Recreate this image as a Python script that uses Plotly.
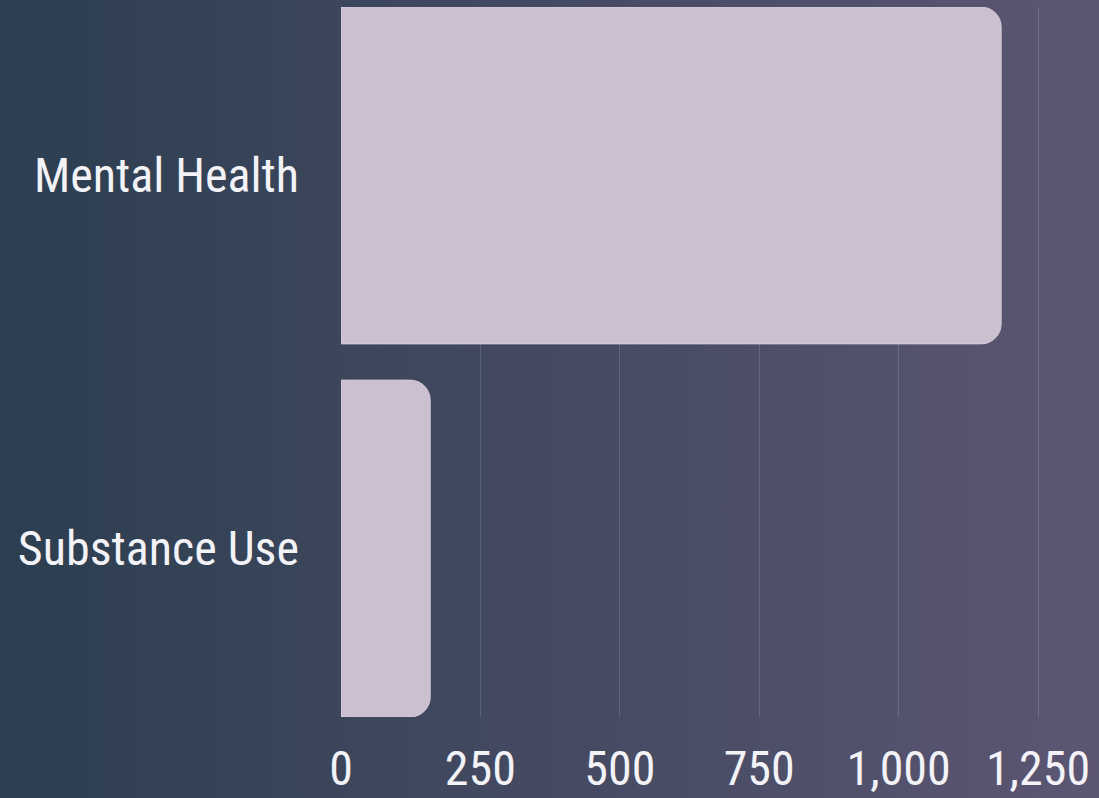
import base64
import plotly.graph_objects as go

categories = ["Mental Health", "Substance Use"]
values = [1184, 160]
tick_vals = [0, 250, 500, 750, 1000, 1250]
tick_text = ["0", "250", "500", "750", "1,000", "1,250"]

W, H = 1099, 798
L, R, T, B = 341, 0, 7, 81
pw, ph = W - L - R, H - T - B

svg = (
    '<svg xmlns="http://www.w3.org/2000/svg" width="1099" height="798" preserveAspectRatio="none">'
    '<defs><linearGradient id="g" x1="0" y1="0" x2="1" y2="0">'
    '<stop offset="0" stop-color="#2c3e50"/><stop offset="1" stop-color="#5c5673"/>'
    '</linearGradient></defs><rect width="1099" height="798" fill="url(#g)"/></svg>'
)
src = "data:image/svg+xml;base64," + base64.b64encode(svg.encode()).decode()

FONT = "Liberation Sans Narrow, Roboto Condensed, Arial Narrow, sans-serif"

fig = go.Figure(
    go.Bar(
        y=categories,
        x=values,
        orientation="h",
        marker=dict(color="#cbc0cf", line=dict(color="rgba(215,205,220,0.9)", width=1)),
        width=0.903,
        hoverinfo="x+y",
    )
)

fig.update_layout(
    width=W,
    height=H,
    margin=dict(l=L, r=R, t=T, b=B, autoexpand=False),
    paper_bgcolor="#434a62",
    plot_bgcolor="rgba(0,0,0,0)",
    barcornerradius=20,
    showlegend=False,
    font=dict(family=FONT, color="#f2f2f7", size=48),
    images=[
        dict(
            source=src,
            xref="paper",
            yref="paper",
            x=-(L + 4) / pw,
            y=1 + (T + 4) / ph,
            sizex=(W + 8) / pw,
            sizey=(H + 8) / ph,
            sizing="stretch",
            xanchor="left",
            yanchor="top",
            layer="below",
        )
    ],
    xaxis=dict(
        range=[0, pw / ((1038 - 341) / 1250)],
        tickvals=tick_vals,
        ticktext=tick_text,
        showgrid=True,
        gridcolor="rgba(255,255,255,0.14)",
        gridwidth=1,
        zeroline=False,
        showline=False,
        ticks="",
        automargin=False,
        ticklabelstandoff=19,
        tickfont=dict(family=FONT, size=48, color="#f2f2f7"),
    ),
    yaxis=dict(
        range=[1.4515, -0.4515],
        showgrid=False,
        zeroline=False,
        showline=False,
        ticks="",
        automargin=False,
        ticklabelstandoff=41,
        tickfont=dict(family=FONT, size=48, color="#f2f2f7"),
    ),
)

fig.write_html(
    "out.html",
    config={"displayModeBar": False},
    post_script=(
        "document.body.style.margin='0';document.body.style.overflow='hidden';"
        "document.body.style.background='linear-gradient(to right,#2c3e50,#5c5673)';"
    ),
)
